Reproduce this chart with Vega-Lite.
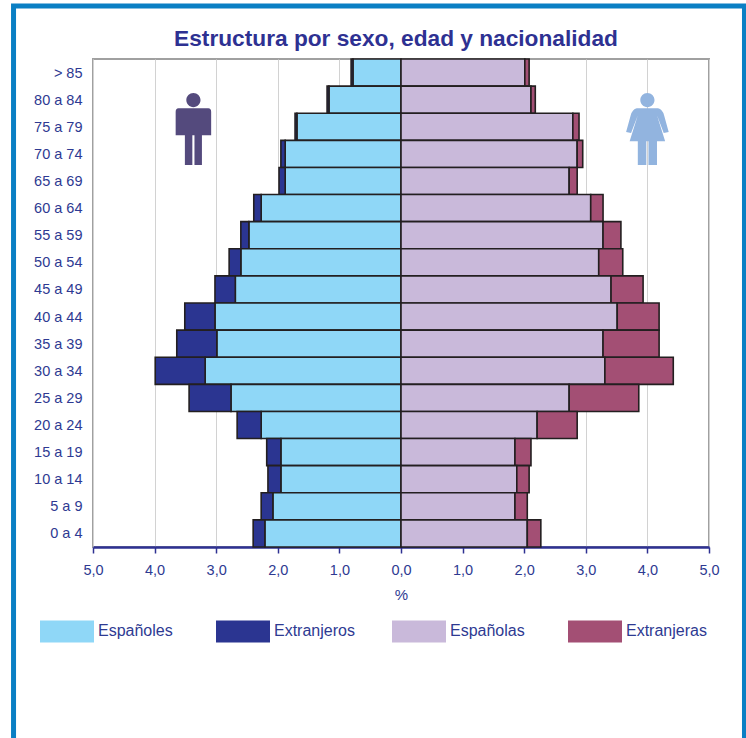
{"$schema":"https://vega.github.io/schema/vega-lite/v6.json","width":616,"height":488,"autosize":"none","padding":{"left":93,"top":59,"right":37,"bottom":191},"background":"white","title":{"text":"Estructura por sexo, edad y nacionalidad","font":"Liberation Sans","fontWeight":"bold","fontSize":22.7,"color":"#2e3192","anchor":"middle","dx":-5,"offset":-47},"config":{"view":{"stroke":"#a0a0a0","strokeWidth":2}},"datasets":{"pop":[
{"edad":"> 85","grupo":"Españoles","rango":1,"valor":-0.78},{"edad":"> 85","grupo":"Extranjeros","rango":2,"valor":-0.03},{"edad":"> 85","grupo":"Españolas","rango":1,"valor":2.01},{"edad":"> 85","grupo":"Extranjeras","rango":2,"valor":0.07},
{"edad":"80 a 84","grupo":"Españoles","rango":1,"valor":-1.17},{"edad":"80 a 84","grupo":"Extranjeros","rango":2,"valor":-0.03},{"edad":"80 a 84","grupo":"Españolas","rango":1,"valor":2.11},{"edad":"80 a 84","grupo":"Extranjeras","rango":2,"valor":0.07},
{"edad":"75 a 79","grupo":"Españoles","rango":1,"valor":-1.69},{"edad":"75 a 79","grupo":"Extranjeros","rango":2,"valor":-0.03},{"edad":"75 a 79","grupo":"Españolas","rango":1,"valor":2.79},{"edad":"75 a 79","grupo":"Extranjeras","rango":2,"valor":0.10},
{"edad":"70 a 74","grupo":"Españoles","rango":1,"valor":-1.88},{"edad":"70 a 74","grupo":"Extranjeros","rango":2,"valor":-0.07},{"edad":"70 a 74","grupo":"Españolas","rango":1,"valor":2.86},{"edad":"70 a 74","grupo":"Extranjeras","rango":2,"valor":0.09},
{"edad":"65 a 69","grupo":"Españoles","rango":1,"valor":-1.88},{"edad":"65 a 69","grupo":"Extranjeros","rango":2,"valor":-0.10},{"edad":"65 a 69","grupo":"Españolas","rango":1,"valor":2.73},{"edad":"65 a 69","grupo":"Extranjeras","rango":2,"valor":0.13},
{"edad":"60 a 64","grupo":"Españoles","rango":1,"valor":-2.27},{"edad":"60 a 64","grupo":"Extranjeros","rango":2,"valor":-0.12},{"edad":"60 a 64","grupo":"Españolas","rango":1,"valor":3.08},{"edad":"60 a 64","grupo":"Extranjeras","rango":2,"valor":0.20},
{"edad":"55 a 59","grupo":"Españoles","rango":1,"valor":-2.47},{"edad":"55 a 59","grupo":"Extranjeros","rango":2,"valor":-0.13},{"edad":"55 a 59","grupo":"Españolas","rango":1,"valor":3.28},{"edad":"55 a 59","grupo":"Extranjeras","rango":2,"valor":0.29},
{"edad":"50 a 54","grupo":"Españoles","rango":1,"valor":-2.60},{"edad":"50 a 54","grupo":"Extranjeros","rango":2,"valor":-0.19},{"edad":"50 a 54","grupo":"Españolas","rango":1,"valor":3.21},{"edad":"50 a 54","grupo":"Extranjeras","rango":2,"valor":0.39},
{"edad":"45 a 49","grupo":"Españoles","rango":1,"valor":-2.69},{"edad":"45 a 49","grupo":"Extranjeros","rango":2,"valor":-0.33},{"edad":"45 a 49","grupo":"Españolas","rango":1,"valor":3.41},{"edad":"45 a 49","grupo":"Extranjeras","rango":2,"valor":0.52},
{"edad":"40 a 44","grupo":"Españoles","rango":1,"valor":-3.02},{"edad":"40 a 44","grupo":"Extranjeros","rango":2,"valor":-0.49},{"edad":"40 a 44","grupo":"Españolas","rango":1,"valor":3.51},{"edad":"40 a 44","grupo":"Extranjeras","rango":2,"valor":0.68},
{"edad":"35 a 39","grupo":"Españoles","rango":1,"valor":-2.99},{"edad":"35 a 39","grupo":"Extranjeros","rango":2,"valor":-0.65},{"edad":"35 a 39","grupo":"Españolas","rango":1,"valor":3.28},{"edad":"35 a 39","grupo":"Extranjeras","rango":2,"valor":0.91},
{"edad":"30 a 34","grupo":"Españoles","rango":1,"valor":-3.18},{"edad":"30 a 34","grupo":"Extranjeros","rango":2,"valor":-0.81},{"edad":"30 a 34","grupo":"Españolas","rango":1,"valor":3.31},{"edad":"30 a 34","grupo":"Extranjeras","rango":2,"valor":1.11},
{"edad":"25 a 29","grupo":"Españoles","rango":1,"valor":-2.76},{"edad":"25 a 29","grupo":"Extranjeros","rango":2,"valor":-0.68},{"edad":"25 a 29","grupo":"Españolas","rango":1,"valor":2.73},{"edad":"25 a 29","grupo":"Extranjeras","rango":2,"valor":1.13},
{"edad":"20 a 24","grupo":"Españoles","rango":1,"valor":-2.27},{"edad":"20 a 24","grupo":"Extranjeros","rango":2,"valor":-0.39},{"edad":"20 a 24","grupo":"Españolas","rango":1,"valor":2.21},{"edad":"20 a 24","grupo":"Extranjeras","rango":2,"valor":0.65},
{"edad":"15 a 19","grupo":"Españoles","rango":1,"valor":-1.95},{"edad":"15 a 19","grupo":"Extranjeros","rango":2,"valor":-0.23},{"edad":"15 a 19","grupo":"Españolas","rango":1,"valor":1.85},{"edad":"15 a 19","grupo":"Extranjeras","rango":2,"valor":0.26},
{"edad":"10 a 14","grupo":"Españoles","rango":1,"valor":-1.95},{"edad":"10 a 14","grupo":"Extranjeros","rango":2,"valor":-0.21},{"edad":"10 a 14","grupo":"Españolas","rango":1,"valor":1.88},{"edad":"10 a 14","grupo":"Extranjeras","rango":2,"valor":0.20},
{"edad":"5 a 9","grupo":"Españoles","rango":1,"valor":-2.08},{"edad":"5 a 9","grupo":"Extranjeros","rango":2,"valor":-0.19},{"edad":"5 a 9","grupo":"Españolas","rango":1,"valor":1.85},{"edad":"5 a 9","grupo":"Extranjeras","rango":2,"valor":0.20},
{"edad":"0 a 4","grupo":"Españoles","rango":1,"valor":-2.21},{"edad":"0 a 4","grupo":"Extranjeros","rango":2,"valor":-0.19},{"edad":"0 a 4","grupo":"Españolas","rango":1,"valor":2.05},{"edad":"0 a 4","grupo":"Extranjeras","rango":2,"valor":0.22}
]},"layer":[
{"data":{"name":"pop"},"mark":{"type":"bar","stroke":"#231f20","strokeWidth":1.6},"encoding":{
"y":{"field":"edad","type":"nominal","sort":["> 85","80 a 84","75 a 79","70 a 74","65 a 69","60 a 64","55 a 59","50 a 54","45 a 49","40 a 44","35 a 39","30 a 34","25 a 29","20 a 24","15 a 19","10 a 14","5 a 9","0 a 4"],"scale":{"paddingInner":0,"paddingOuter":0},"axis":{"title":null,"domain":false,"ticks":false,"grid":false,"labelFont":"Liberation Sans","labelFontSize":14.5,"labelColor":"#2e3a92","labelPadding":11,"labelBaseline":"middle","labelOffset":1}},
"x":{"field":"valor","type":"quantitative","stack":"zero","scale":{"domain":[-5,5],"nice":false},"axis":{"title":"%","titleFont":"Liberation Sans","titleFontSize":15,"titleFontWeight":"normal","titleColor":"#2e3a92","titlePadding":11,"values":[-5,-4,-3,-2,-1,0,1,2,3,4,5],"labelExpr":"replace(format(abs(datum.value),'.1f'),'.',',')","labelFont":"Liberation Sans","labelFontSize":14.5,"labelColor":"#2e3a92","labelPadding":10,"labelFlush":false,"grid":true,"gridColor":"#d2d2d2","gridWidth":1,"domainColor":"#2e3192","domainWidth":2.5,"tickColor":"#2e3192","tickWidth":1.5,"tickSize":6}},
"color":{"field":"grupo","type":"nominal","scale":{"domain":["Españoles","Extranjeros","Españolas","Extranjeras"],"range":["#8fd7f7","#2b3591","#c9b9da","#a34f74"]},"legend":{"title":null,"orient":"none","legendX":-53,"legendY":545,"direction":"horizontal","columns":4,"gridAlign":"all","columnPadding":37,"symbolType":"M-1,-0.41H1V0.41H-1Z","symbolSize":2916,"symbolStrokeWidth":0,"labelFont":"Liberation Sans","labelFontSize":16,"labelColor":"#2e3a92","labelOffset":4}},
"order":{"field":"rango","type":"quantitative"}}},
{"data":{"values":[{"xa":-6.29,"xb":5.576,"ya":1.1086,"yb":-0.412}]},"mark":{"type":"rect","filled":false,"stroke":"#0a7fc4","strokeWidth":5,"clip":false},"encoding":{
"x":{"field":"xa","type":"quantitative"},"x2":{"field":"xb"},
"y":{"field":"ya","type":"quantitative","scale":{"domain":[0,1],"nice":false},"axis":null},"y2":{"field":"yb"}}},
{"data":{"values":[{"figura":"hombre","px":-3.37,"py":0.8555}]},"mark":{"type":"point","filled":true,"size":5041,"color":"#544a7d","opacity":1,"strokeWidth":0,"shape":"M-0.2,-0.83A0.2,0.2 0 1 1 0.2,-0.83A0.2,0.2 0 1 1 -0.2,-0.83ZM-0.42,-0.6H0.42Q0.5,-0.6 0.5,-0.5V0.16H0.24V1H0.03V0.16H-0.03V1H-0.24V0.16H-0.5V-0.5Q-0.5,-0.6 -0.42,-0.6Z"},"encoding":{
"x":{"field":"px","type":"quantitative"},
"y":{"field":"py","type":"quantitative","scale":{"domain":[0,1],"nice":false},"axis":null}}},
{"data":{"values":[{"figura":"mujer","px":4.0,"py":0.8555}]},"mark":{"type":"point","filled":true,"size":5041,"color":"#92b4df","opacity":1,"strokeWidth":0,"shape":"M-0.2,-0.83A0.2,0.2 0 1 1 0.2,-0.83A0.2,0.2 0 1 1 -0.2,-0.83ZM-0.3,-0.6H0.3Q0.42,-0.58 0.47,-0.4L0.6,0.07L0.46,0.1L0.27,-0.4L0.5,0.33H0.27V1H0.03V0.33H-0.03V1H-0.27V0.33H-0.5L-0.27,-0.4L-0.46,0.1L-0.6,0.07L-0.47,-0.4Q-0.42,-0.58 -0.3,-0.6Z"},"encoding":{
"x":{"field":"px","type":"quantitative"},
"y":{"field":"py","type":"quantitative","scale":{"domain":[0,1],"nice":false},"axis":null}}}
],"resolve":{"scale":{"y":"independent"}}}
